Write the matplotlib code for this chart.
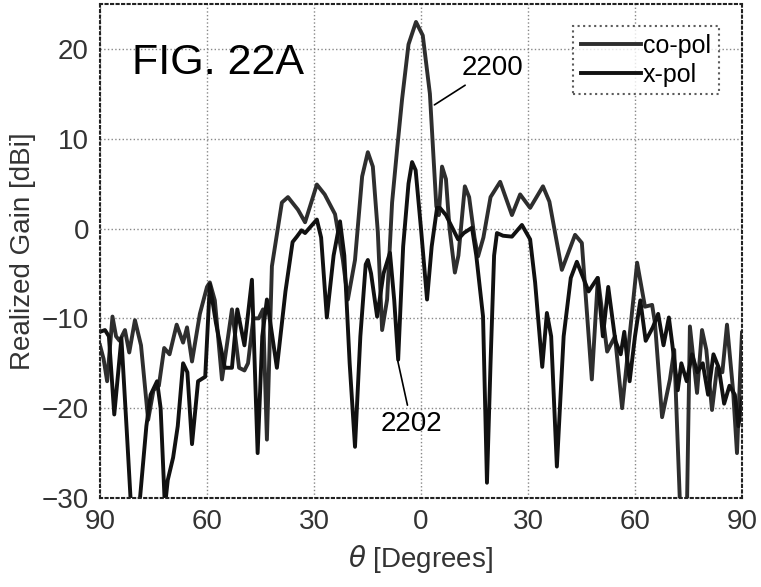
import numpy as np
import matplotlib
matplotlib.use("Agg")
from matplotlib import pyplot as plt

plt.rcParams['font.family'] = ['Liberation Sans', 'DejaVu Sans']

# co-pol realized gain (dBi) vs theta (deg)
copol_theta = [-90, -89, -88, -86.5, -85.5, -84.5, -83, -81.8, -80.2, -78.5, -76.5, -75, -73.5,
               -72, -70.5, -68.5, -66.7, -65.6, -64.2, -62, -60, -59.2, -57.8, -55.8, -53, -51,
               -49.5, -48.5, -47, -45.5, -44.3, -43.2, -41.8, -39, -37.3, -34.5, -32.5, -29.2,
               -27, -24.1, -21.9, -20.5, -18.5, -16.5, -14.9, -13.5, -12.1, -10.9, -9.5, -8.1,
               -6.7, -5.3, -3.5, -1.4, 0.5, 2.5, 3.5, 4.3, 5.0, 5.9, 7.0, 8.0, 9.5, 10.5, 12.3,
               13.5, 15, 16, 17.5, 19.5, 22.2, 25.5, 27.8, 30.6, 34.2, 36, 39.5, 43.2, 45.1,
               47.9, 49.6, 52.2, 54.4, 56.4, 60.6, 62.8, 64.8, 65.6, 67.6, 69.8, 71, 72.6, 74.6,
               75.4, 77.4, 78.8, 80, 81.6, 83, 84.5, 85.8, 87.5, 88.6, 89.5, 90]
copol_gain = [-13, -14.5, -17, -9.8, -12, -12.5, -11.3, -13.8, -10.2, -13, -21.3, -18, -17.5,
              -13.3, -14, -10.7, -12.7, -11, -14.8, -9.5, -6.5, -6, -8, -16.8, -9, -15.5,
              -15.8, -15, -10, -10, -9, -23.5, -4.2, 2.9, 3.5, 2.1, 0.7, 4.9,
              3.8, 1.6, -3.5, -7.9, -3.5, 5.8, 8.5, 6.9, -0.4, -11.3, -7.9, 2.9,
              8.8, 14.4, 20.5, 23, 21.5, 15, 8, 2.5, 1.5, 6.9, 5.5, 0, -4.9, -3, 4.7,
              3.5, -1, -3.1, -1, 3.5, 5.2, 1.5, 3.8, 2.3, 4.7, 3, -4.6, -0.7, -1.6,
              -16.8, -5.5, -13.7, -12, -20, -3.8, -8.7, -8.5, -10.5, -21, -16.8, -13.5, -30.5, -30.5,
              -10.9, -18.3, -11.3, -13.5, -20.2, -15.5, -16, -10.7, -18, -25, -16, -11.6]

# x-pol realized gain (dBi) vs theta (deg)
xpol_theta = [-90, -88.6, -87.5, -86, -84, -82.5, -81.3, -79, -77, -75.8, -74, -73, -71.8, -71,
              -69.5, -68.2, -66.7, -65.5, -64.2, -62.5, -60.5, -59.2, -57.5, -55, -53, -51.5,
              -49.5, -47.4, -45.8, -44.5, -43.2, -40.4, -38, -36, -34.8, -33.5, -32.5, -29.2,
              -28, -26.4, -24.5, -22.7, -21.5, -20, -18.5, -17, -15.5, -14.9, -14, -12.3, -10.5,
              -8.7, -7.5, -6.4, -5, -3.5, -2.5, -1.5, 0, 1.7, 3, 4.5, 5.3, 7, 10.4, 12, 14.3,
              15.5, 17.4, 18.5, 19.5, 20.5, 21.3, 23, 25.5, 28.3, 30.6, 32, 34, 35.3, 36.5,
              38.1, 40, 42, 43.7, 45.5, 47, 49.5, 51, 52.5, 54.5, 56, 57, 58.5, 60, 61.5, 63,
              65, 66.5, 68, 69.5, 70.5, 72, 73, 74.5, 76, 77.5, 79, 80.5, 82, 83.5, 85, 86.5,
              88, 89, 90]
xpol_gain = [-11.5, -11.3, -12, -20.7, -12.2, -22.5, -31, -31, -22, -18.5, -17, -20, -31, -28,
             -25.5, -22, -15, -16, -24, -17, -16.5, -6.2, -10.5, -15.5, -15.5, -9,
             -13, -5.7, -25, -12, -7.9, -15.5, -7, -1.5, -0.9, -0.2, -0.5, 1.0,
             -1, -9.9, -3, 0.8, -3, -15, -24.3, -12, -4, -3.5, -5, -9.8, -5,
             -2.7, -8, -14.6, -2, 5, 7.4, 6.5, 0, -7.9, -2, 2.3, 2.3, 1.5, -1.2, -0.5, 0.1,
             -3, -9.8, -28.3, -15, -3, -0.5, -0.8, -0.9, 0.4, -1.2, -6, -15.4, -9.4, -12,
             -26.5, -12, -5.5, -3.7, -5.5, -7, -5.5, -12, -6.5, -12.5, -14, -11.5, -17, -12, -8, -12.5,
             -11, -9.5, -13, -9.9, -13, -18, -15, -17, -14, -16, -15, -18.5, -14, -15.5, -19.5, -17.5,
             -18.5, -22, -19]

xticks = [-90, -60, -30, 0, 30, 60, 90]
xticklabels = ['90', '60', '30', '0', '30', '60', '90']
yticks = [-30, -20, -10, 0, 10, 20]

fig = plt.figure(figsize=(7.61, 5.87), dpi=100)
ax = fig.add_axes([0.1314, 0.1516, 0.8436, 0.8416])

ax.plot(copol_theta, copol_gain, color='#2e2e2e', lw=2.8, label='co-pol')
ax.plot(xpol_theta, xpol_gain, color='#111111', lw=2.8, label='x-pol')

ax.set_xlim(-90, 90)
ax.set_ylim(-30, 25)
ax.set_xticks(xticks)
ax.set_xticklabels(xticklabels)
ax.set_yticks(yticks)
ax.tick_params(labelsize=20, colors='#333333', length=0, pad=8)
ax.grid(True, linestyle=':', color='#888888', lw=1)
for s in ax.spines.values():
    s.set_linestyle(':')
    s.set_linewidth(1.5)
    s.set_color('#222222')

ax.set_xlabel(r'$\theta$ [Degrees]', fontsize=20, color='#333333', labelpad=6)
ax.set_ylabel('Realized Gain [dBi]', fontsize=20, color='#333333', labelpad=4)

ax.text(-81, 17.2, 'FIG. 22A', fontsize=31, color='black')

leg = ax.legend(loc='upper right', fontsize=18, handlelength=2.4, handletextpad=0.1,
                borderpad=0.3, labelspacing=0.2, fancybox=False, bbox_to_anchor=(0.983, 0.98))
leg.get_frame().set_edgecolor('#333333')
leg.get_frame().set_linestyle(':')
leg.get_frame().set_linewidth(1.5)

ax.annotate('2200', xy=(3.1, 13.6), xytext=(11.3, 17.1), fontsize=20,
            arrowprops=dict(arrowstyle='-', color='black', lw=1.2))
ax.annotate('2202', xy=(-6.7, -14.4), xytext=(-11.3, -22.5), fontsize=20,
            arrowprops=dict(arrowstyle='-', color='black', lw=1.2))

fig.savefig('out.png', dpi=100)
